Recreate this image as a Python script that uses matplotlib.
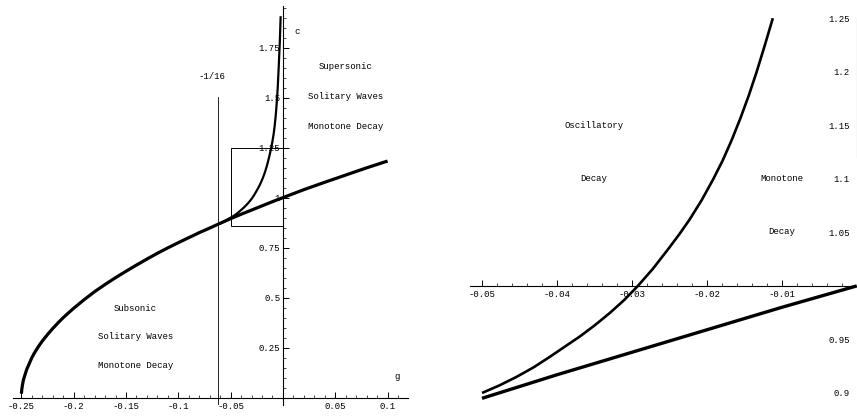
import matplotlib
matplotlib.use("Agg")
import matplotlib.pyplot as plt
from matplotlib.ticker import MultipleLocator, FixedLocator, FixedFormatter
from matplotlib.patches import Rectangle

plt.rcParams['font.family'] = ['Liberation Mono', 'DejaVu Sans Mono']
plt.rcParams['font.size'] = 6.5

# ---- data ----
# subsonic / supersonic boundary  c(g)
g_sub = [-0.25, -0.2498, -0.2495, -0.249, -0.248, -0.2465, -0.245, -0.2425, -0.24,
         -0.2375, -0.235, -0.2325, -0.23, -0.225, -0.22, -0.215, -0.21, -0.205, -0.2,
         -0.19, -0.18, -0.17, -0.16, -0.15, -0.14, -0.13, -0.12, -0.11, -0.1,
         -0.09, -0.08, -0.07, -0.0625, -0.05, -0.04, -0.03, -0.02, -0.01, 0.0,
         0.02, 0.04, 0.06, 0.08, 0.1]
c_sub = [0.02, 0.03, 0.045, 0.063, 0.09, 0.115, 0.14, 0.17, 0.20,
         0.224, 0.245, 0.265, 0.283, 0.316, 0.346, 0.374, 0.40, 0.424, 0.447,
         0.49, 0.53, 0.566, 0.60, 0.632, 0.663, 0.693, 0.722, 0.749, 0.775,
         0.80, 0.825, 0.848, 0.866, 0.895, 0.917, 0.938, 0.959, 0.98, 1.0,
         1.04, 1.077, 1.113, 1.149, 1.183]

# oscillatory / monotone decay boundary  c(g)
g_osc = [-0.0625, -0.059, -0.056, -0.053, -0.05, -0.0477, -0.0454, -0.0431, -0.0409,
         -0.0389, -0.0369, -0.0349, -0.0329, -0.031, -0.0292, -0.0272, -0.0252,
         -0.0237, -0.0223, -0.0207, -0.0192, -0.0179, -0.0167, -0.0155, -0.0144,
         -0.0134, -0.0123, -0.0112, -0.0101, -0.0090, -0.0080, -0.0070, -0.0060,
         -0.0050, -0.0040, -0.0030, -0.0022]
c_osc = [0.866, 0.874, 0.882, 0.891, 0.900, 0.907, 0.915, 0.924, 0.934,
         0.9435, 0.953, 0.9635, 0.975, 0.987, 1.000, 1.016, 1.034,
         1.048, 1.062, 1.080, 1.099, 1.117, 1.136, 1.157, 1.178,
         1.199, 1.224, 1.250, 1.280, 1.315, 1.355, 1.405, 1.470,
         1.550, 1.660, 1.780, 1.907]

g_crit = -1 / 16
left_xticks = [-0.25, -0.2, -0.15, -0.1, -0.05, 0.05, 0.1]
left_xlabels = ["-0.25", "-0.2", "-0.15", "-0.1", "-0.05", "0.05", "0.1"]
left_yticks = [0.25, 0.5, 0.75, 1.0, 1.25, 1.5, 1.75]
left_ylabels = ["0.25", "0.5", "0.75", "1", "1.25", "1.5", "1.75"]
right_xticks = [-0.05, -0.04, -0.03, -0.02, -0.01]
right_xlabels = ["-0.05", "-0.04", "-0.03", "-0.02", "-0.01"]
right_yticks = [0.9, 0.95, 1.05, 1.1, 1.15, 1.2, 1.25]
right_ylabels = ["0.9", "0.95", "1.05", "1.1", "1.15", "1.2", "1.25"]
zoom_box = (-0.05, 0.86, 0.0, 1.25)

W, H = 857, 416
fig = plt.figure(figsize=(W / 100, H / 100), dpi=100)


def ax_at(x0, y0, x1, y1):
    return fig.add_axes([x0 / W, 1 - y1 / H, (x1 - x0) / W, (y1 - y0) / H])


def style(ax):
    for s in ("top", "right"):
        ax.spines[s].set_visible(False)
    for s in ("left", "bottom"):
        ax.spines[s].set_linewidth(0.8)
    ax.patch.set_alpha(0)


# ---------------- left panel ----------------
ax = ax_at(13, 6, 408, 405)
style(ax)
ax.set_xlim(-0.258, 0.1195)
ax.set_ylim(-0.0365, 1.958)
ax.spines["left"].set_position(("data", 0))
ax.spines["bottom"].set_position(("data", 0))
ax.xaxis.set_major_locator(FixedLocator(left_xticks))
ax.xaxis.set_major_formatter(FixedFormatter(left_xlabels))
ax.yaxis.set_major_locator(FixedLocator(left_yticks))
ax.yaxis.set_major_formatter(FixedFormatter(left_ylabels))
ax.xaxis.set_minor_locator(MultipleLocator(0.01))
ax.yaxis.set_minor_locator(MultipleLocator(0.05))
ax.tick_params(axis="x", which="major", direction="in", length=4, width=0.7, pad=3)
ax.tick_params(axis="x", which="minor", direction="in", length=2, width=0.5)
ax.tick_params(axis="y", which="major", direction="in", length=4, width=0.7, pad=2)
ax.tick_params(axis="y", which="minor", direction="in", length=2, width=0.5)

ax.plot(g_sub, c_sub, color="black", lw=2.3, solid_capstyle="butt", solid_joinstyle="round")
ax.plot(g_osc, c_osc, color="black", lw=1.6, solid_capstyle="butt", solid_joinstyle="round")
ax.plot([g_crit, g_crit], [-0.0365, 1.505], color="black", lw=0.6)
ax.add_patch(Rectangle((zoom_box[0], zoom_box[1]), zoom_box[2] - zoom_box[0],
                       zoom_box[3] - zoom_box[1], fill=False, lw=0.7, ec="black"))

ax.text(0.013, 1.83, "c", ha="center", va="center")
ax.text(0.109, 0.105, "g", ha="center", va="center")
ax.text(g_crit - 0.005, 1.605, "-1/16", ha="center", va="center")
for txt, cc in (("Supersonic", 1.658), ("Solitary Waves", 1.505), ("Monotone Decay", 1.355)):
    ax.text(0.0595, cc, txt, ha="center", va="center")
for txt, cc in (("Subsonic", 0.447), ("Solitary Waves", 0.305), ("Monotone Decay", 0.16)):
    ax.text(-0.141, cc, txt, ha="center", va="center")

# ---------------- right panel ----------------
ax2 = ax_at(470, 0, 857, 416)
style(ax2)
ax2.set_xlim(-0.0516, 0.00003)
ax2.set_ylim(0.8785, 1.267)
ax2.spines["left"].set_position(("data", 0))
ax2.spines["bottom"].set_position(("data", 1.0))
ax2.spines["left"].set_color("#888888")
ax2.spines["left"].set_bounds(1.12, 1.25)
ax2.xaxis.set_major_locator(FixedLocator(right_xticks))
ax2.xaxis.set_major_formatter(FixedFormatter(right_xlabels))
ax2.yaxis.set_major_locator(FixedLocator(right_yticks))
ax2.yaxis.set_major_formatter(FixedFormatter(right_ylabels))
ax2.xaxis.set_minor_locator(MultipleLocator(0.002))
ax2.tick_params(axis="x", which="major", direction="in", length=4, width=0.7, pad=3)
ax2.tick_params(axis="x", which="minor", direction="in", length=2, width=0.5)
ax2.tick_params(axis="y", which="major", length=0, pad=5)

sg = [g for g in g_sub if -0.05 <= g <= 0.0]
sc = [c for g, c in zip(g_sub, c_sub) if -0.05 <= g <= 0.0]
og = [g for g, c in zip(g_osc, c_osc) if g >= -0.05 and c <= 1.25]
oc = [c for g, c in zip(g_osc, c_osc) if g >= -0.05 and c <= 1.25]
ax2.plot(sg, sc, color="black", lw=2.4, solid_capstyle="butt", solid_joinstyle="round")
ax2.plot(og, oc, color="black", lw=1.9, solid_capstyle="butt", solid_joinstyle="round")

ax2.text(-0.0351, 1.150, "Oscillatory", ha="center", va="center")
ax2.text(-0.0351, 1.100, "Decay", ha="center", va="center")
ax2.text(-0.0100, 1.100, "Monotone", ha="center", va="center")
ax2.text(-0.0100, 1.051, "Decay", ha="center", va="center")

fig.savefig("out.png", dpi=100)
